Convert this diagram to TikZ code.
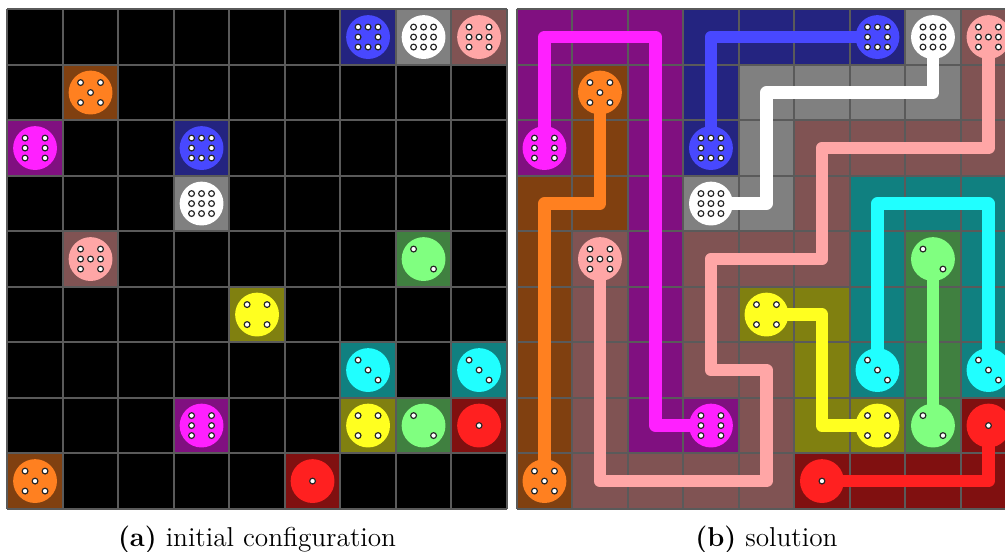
\documentclass[tikz,border=0pt]{standalone}
\usepackage{xcolor}
\usepackage{tikz}
\definecolor{DiceRed}{RGB}{255,32,32}
\definecolor{DiceGreen}{RGB}{128,255,128}
\definecolor{DiceCyan}{RGB}{32,255,255}
\definecolor{DiceYellow}{RGB}{255,255,32}
\definecolor{DiceOrange}{RGB}{255,128,32}
\definecolor{DiceMagenta}{RGB}{255,32,255}
\definecolor{DicePink}{RGB}{255,166,166}
\definecolor{DiceBlue}{RGB}{72,72,255}
\definecolor{DiceWhite}{RGB}{255,255,255}
\definecolor{GridGray}{RGB}{90,90,90}

\pgfdeclarelayer{cells}
\pgfdeclarelayer{flows}
\pgfsetlayers{cells,flows,main}

\tikzset{
  gridline/.style={draw=GridGray, line width=1pt},
  dot/.style={circle, minimum size=0.79cm, inner sep=0pt},
  pip/.style={fill=white, draw=black!85, line width=0.6pt},
  cellrun/.style={line width=1cm, line cap=rect, line join=miter},
  flowline/.style={line width=0.225cm, line cap=round, line join=round},
  caption/.style={anchor=base, inner sep=0pt, font=\fontsize{14}{17}\selectfont}
}

% pip layouts, x to the right, y downwards
\def\pipsi{0/0}
\def\pipsii{-1/-1, 1/1}
\def\pipsiii{-1/-1, 0/0, 1/1}
\def\pipsiv{-1/-1, 1/-1, -1/1, 1/1}
\def\pipsv{-1/-1, 1/-1, 0/0, -1/1, 1/1}
\def\pipsvi{-1/-1, -1/0, -1/1, 1/-1, 1/0, 1/1}
\def\pipsvii{-1/-1, -1/0, -1/1, 0/0, 1/-1, 1/0, 1/1}
\def\pipsviii{-1/-1, 0/-1, 1/-1, -1/0, 1/0, -1/1, 0/1, 1/1}
\def\pipsix{-1/-1, 0/-1, 1/-1, -1/0, 0/0, 1/0, -1/1, 0/1, 1/1}

\def\dicelist{Blue1/6/0/DiceBlue/8, White1/7/0/DiceWhite/9, Pink1/8/0/DicePink/7,
  Orange1/1/1/DiceOrange/5, Magenta1/0/2/DiceMagenta/6, Blue2/3/2/DiceBlue/8,
  White2/3/3/DiceWhite/9, Pink2/1/4/DicePink/7, Green1/7/4/DiceGreen/2,
  Yellow1/4/5/DiceYellow/4, Cyan1/6/6/DiceCyan/3, Cyan2/8/6/DiceCyan/3,
  Magenta2/3/7/DiceMagenta/6, Yellow2/6/7/DiceYellow/4, Green2/7/7/DiceGreen/2,
  Red1/8/7/DiceRed/1, Orange2/0/8/DiceOrange/5, Red2/5/8/DiceRed/1}

\newcommand{\die}[5]{% name, column, row, colour, pips
  \begin{pgfonlayer}{cells}
    \fill[#4!50!black] ({#2-0.5},{#3-0.5}) rectangle ({#2+0.5},{#3+0.5});
  \end{pgfonlayer}
  \node[dot, fill=#4] (#1) at (#2,#3) {};
  \expandafter\let\expandafter\piplist\csname pips\romannumeral#5\endcsname
  \foreach \px/\py in \piplist {
    \filldraw[pip] ({#2+(\px)*0.18},{#3+(\py)*0.18}) circle (0.052);
  }
}

\newcommand{\route}[2]{% colour, path
  \begin{pgfonlayer}{cells}
    \draw[cellrun, #1!50!black] #2;
  \end{pgfonlayer}
  \begin{pgfonlayer}{flows}
    \draw[flowline, #1] #2;
  \end{pgfonlayer}
}

\begin{document}
\begin{tikzpicture}[x=1cm, y=-1cm]
\useasboundingbox (-0.1315,-0.1676) rectangle (17.976,9.778);

\begin{scope}[shift={(0.5,0.5)}]
  \begin{pgfonlayer}{cells}
    \fill[black] (-0.5,-0.5) rectangle (8.5,8.5);
  \end{pgfonlayer}
  \foreach \nm/\c/\r/\col/\n in \dicelist {\die{a\nm}{\c}{\r}{\col}{\n}}
  \begin{pgfonlayer}{cells}
    \draw[gridline, shift={(-0.5,-0.5)}] (0,0) grid (9,9);
  \end{pgfonlayer}
  \node[caption] (capA) at (4,9.183) {\textbf{(a)} initial configuration};
\end{scope}

\begin{scope}[shift={(9.678,0.5)}]
  \foreach \nm/\c/\r/\col/\n in \dicelist {\die{b\nm}{\c}{\r}{\col}{\n}}
  \route{DiceMagenta}{(bMagenta1.center) -- (0,0) -- (2,0) -- (2,7) -- (bMagenta2.center)}
  \route{DiceOrange}{(bOrange1.center) -- (1,3) -- (0,3) -- (bOrange2.center)}
  \route{DiceBlue}{(bBlue2.center) -- (3,0) -- (bBlue1.center)}
  \route{DiceWhite}{(bWhite1.center) -- (7,1) -- (4,1) -- (4,3) -- (bWhite2.center)}
  \route{DicePink}{(bPink2.center) -- (1,8) -- (4,8) -- (4,6) -- (3,6) -- (3,4) -- (5,4) -- (5,2) -- (8,2) -- (bPink1.center)}
  \route{DiceGreen}{(bGreen1.center) -- (bGreen2.center)}
  \route{DiceYellow}{(bYellow1.center) -- (5,5) -- (5,7) -- (bYellow2.center)}
  \route{DiceCyan}{(bCyan1.center) -- (6,3) -- (8,3) -- (bCyan2.center)}
  \route{DiceRed}{(bRed2.center) -- (8,8) -- (bRed1.center)}
  \begin{pgfonlayer}{cells}
    \draw[gridline, shift={(-0.5,-0.5)}] (0,0) grid (9,9);
  \end{pgfonlayer}
  \node[caption] (capB) at (4,9.183) {\textbf{(b)} solution};
\end{scope}
\end{tikzpicture}
\end{document}
